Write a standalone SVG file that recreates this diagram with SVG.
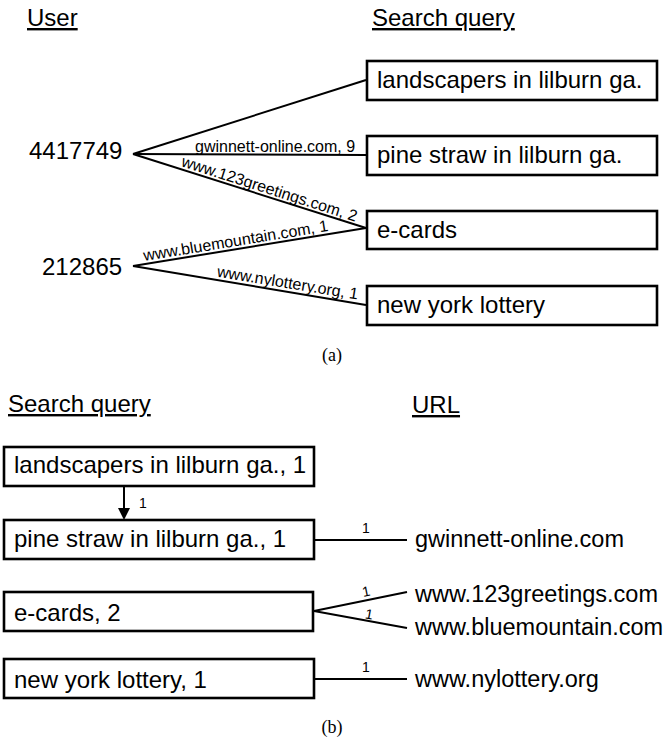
<svg xmlns="http://www.w3.org/2000/svg" width="668" height="742" viewBox="0 0 668 742">
<defs>
<style>
text{font-family:"Liberation Sans",Arial,sans-serif;fill:#000}
.big{font-size:24px}
.url{font-size:23.5px}
.hdr{font-size:24px;text-decoration:underline}
.lbl{font-size:16px}
.sm{font-size:14px}
.cap{font-family:"Liberation Serif","Times New Roman",serif;font-size:18px}
.box{fill:#fff;stroke:#000;stroke-width:2.6}
.ln{stroke:#000;stroke-width:2;fill:none}
</style>
</defs>
<rect width="668" height="742" fill="#fff"/>

<!-- (a) -->
<text class="hdr" x="27" y="26">User</text>
<text class="hdr" x="372" y="26">Search query</text>

<g id="connectors-a">
<line class="ln" x1="133" y1="154" x2="366" y2="80"/>
<line class="ln" x1="133" y1="154" x2="366" y2="155"/>
<line class="ln" x1="133" y1="154" x2="366" y2="228"/>
<line class="ln" x1="133" y1="266" x2="366" y2="228"/>
<line class="ln" x1="133" y1="266" x2="366" y2="305"/>
<text class="lbl" x="195" y="152">gwinnett-online.com, 9</text>
<text class="lbl" transform="translate(133,154) rotate(17.68)" x="49" y="-3">www.123greetings.com, 2</text>
<text class="lbl" transform="translate(133,266) rotate(-9.3)" x="12" y="-3">www.bluemountain.com, 1</text>
<text class="lbl" transform="translate(133,266) rotate(9.26)" x="84" y="-3">www.nylottery.org, 1</text>
</g>

<g id="user-4417749"><text class="big" x="29" y="159">4417749</text></g>
<g id="user-212865"><text class="big" x="42" y="275">212865</text></g>

<g id="q-landscapers"><rect class="box" x="367" y="61" width="290" height="39"/><text class="big" x="377" y="88">landscapers in lilburn ga.</text></g>
<g id="q-pinestraw"><rect class="box" x="367" y="136" width="290" height="39"/><text class="big" x="377" y="163">pine straw in lilburn ga.</text></g>
<g id="q-ecards"><rect class="box" x="367" y="211" width="290" height="38"/><text class="big" x="377" y="238">e-cards</text></g>
<g id="q-nylottery"><rect class="box" x="367" y="286" width="290" height="39"/><text class="big" x="377" y="313">new york lottery</text></g>

<text class="cap" x="332" y="361" text-anchor="middle">(a)</text>

<!-- (b) -->
<text class="hdr" x="8" y="412">Search query</text>
<text class="hdr" x="412" y="413">URL</text>

<g id="connectors-b">
<line class="ln" x1="124" y1="487" x2="124" y2="510"/>
<polygon points="118,508 130,508 124,520" fill="#000"/>
<text class="sm" x="139" y="508">1</text>
<line class="ln" x1="314" y1="540" x2="407" y2="540"/>
<text class="sm" x="362" y="533">1</text>
<line class="ln" x1="314" y1="611" x2="407" y2="592"/>
<line class="ln" x1="314" y1="611" x2="407" y2="628"/>
<text class="sm" transform="translate(314,611) rotate(-11.5)" x="51" y="-4">1</text>
<text class="sm" transform="translate(314,611) rotate(10.3)" x="51" y="-2">1</text>
<line class="ln" x1="314" y1="679" x2="407" y2="679"/>
<text class="sm" x="362" y="672">1</text>
</g>

<g id="b-landscapers"><rect class="box" x="4" y="447" width="310" height="39"/><text class="big" x="14" y="473">landscapers in lilburn ga., 1</text></g>
<g id="b-pinestraw"><rect class="box" x="4" y="520" width="310" height="39"/><text class="big" x="14" y="547">pine straw in lilburn ga., 1</text></g>
<g id="b-ecards"><rect class="box" x="4" y="592" width="309" height="39"/><text class="big" x="14" y="621">e-cards, 2</text></g>
<g id="b-nylottery"><rect class="box" x="4" y="659" width="310" height="39"/><text class="big" x="14" y="688">new york lottery, 1</text></g>

<g id="url-gwinnett"><text class="url" x="415" y="547">gwinnett-online.com</text></g>
<g id="url-123greetings"><text class="url" x="415" y="602">www.123greetings.com</text></g>
<g id="url-bluemountain"><text class="url" x="415" y="635">www.bluemountain.com</text></g>
<g id="url-nylottery"><text class="url" x="415" y="687">www.nylottery.org</text></g>

<text class="cap" x="332" y="733" text-anchor="middle">(b)</text>
</svg>
